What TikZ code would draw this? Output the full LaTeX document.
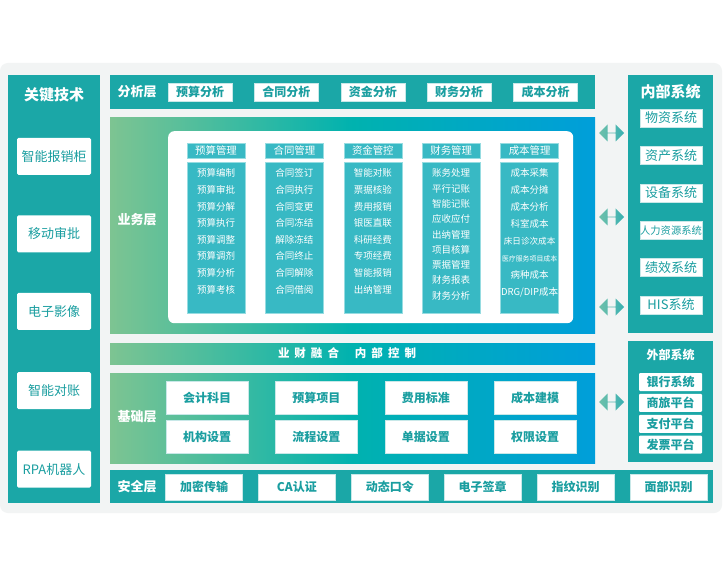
\documentclass[tikz,border=0pt]{standalone}
\usepackage{fontspec}
\setmainfont{Noto Sans CJK SC}
\usepackage{xcolor}
\usepackage{tikz}
\usetikzlibrary{shapes.arrows, positioning}
\tikzset{
    sidepanel/.style={rectangle, fill=mainteal, inner sep=0pt},
    layerband/.style={rectangle, inner sep=0pt, left color=ggreen, right color=gblue, middle color=gteal},
    paneltitle/.style={text=white, font=\bfseries\fontsize{15}{15}\selectfont, inner sep=0pt},
    layerlabel/.style={text=white, font=\bfseries\fontsize{13}{13}\selectfont, inner sep=0pt},
    techbox/.style={rectangle, rounded corners=1.5pt, fill=white, minimum width=74pt, minimum height=37pt, text=boxtext, font=\fontsize{13}{13}\selectfont, inner sep=0pt},
    tagbox/.style={rectangle, fill=white, draw=tagline, minimum width=64pt, minimum height=18pt, text=boxtext, font=\bfseries\fontsize{12}{12}\selectfont, inner sep=0pt},
    colhead/.style={rectangle, fill=colteal, draw=colline, minimum width=58pt, minimum height=15pt, text=white, font=\fontsize{10.4}{10.4}\selectfont, inner sep=0pt},
    colbody/.style={rectangle, fill=colteal, draw=colline, minimum width=58pt, minimum height=151pt, inner sep=0pt},
    itemlist/.style={align=center, text=white, inner sep=0pt, font=\fontsize{9.5}{16.6}\selectfont},
    sysbox/.style={rectangle, fill=white, draw=tagline, minimum width=62pt, minimum height=18pt, text=boxtext, font=\fontsize{13}{13}\selectfont, inner sep=0pt},
    extbox/.style={rectangle, rounded corners=1pt, fill=white, minimum width=63pt, minimum height=18pt, text=boxtext, font=\bfseries\fontsize{12}{12}\selectfont, inner sep=0pt},
    basebox/.style={rectangle, fill=white, draw=tagline, minimum width=82pt, minimum height=33pt, text=boxtext, font=\bfseries\fontsize{12}{12}\selectfont, inner sep=0pt},
    safebox/.style={rectangle, fill=white, draw=tagline, minimum width=77pt, minimum height=26pt, text=boxtext, font=\bfseries\fontsize{12}{12}\selectfont, inner sep=0pt},
    linkarrow/.style={double arrow, double arrow head extend=3.5pt, minimum height=25pt, minimum width=17pt, inner sep=0pt, left color=arrgreen, right color=arrteal}
}
\definecolor{bggray}{RGB}{242,244,244}
\definecolor{mainteal}{RGB}{27,167,167}
\definecolor{colteal}{RGB}{56,185,196}
\definecolor{colline}{RGB}{150,220,225}
\definecolor{boxtext}{RGB}{26,158,160}
\definecolor{tagline}{RGB}{200,232,232}
\definecolor{ggreen}{RGB}{125,196,146}
\definecolor{gteal}{RGB}{0,178,175}
\definecolor{gblue}{RGB}{0,158,218}
\definecolor{arrgreen}{RGB}{110,192,170}
\definecolor{arrteal}{RGB}{58,176,178}

\begin{document}
\begin{tikzpicture}[x=1pt, y=-1pt, node distance=20pt]
    \useasboundingbox (0,0) rectangle (725,577);
    \fill[white] (0,0) rectangle (725,577);
    \fill[bggray, rounded corners=8pt] (0,63) rectangle (722,513);

    % Key technologies
    \node (keytech) [sidepanel, minimum width=92pt, minimum height=428pt, anchor=north west] at (8,75) {};
    \node (keytitle) [paneltitle] at (54,95) {关键技术};
    \node (tech1) [techbox] at (54,156.5) {智能报销柜};
    \node (tech2) [techbox, below=40pt of tech1] {移动审批};
    \node (tech3) [techbox, below=40pt of tech2] {电子影像};
    \node (tech4) [techbox, below=42pt of tech3] {智能对账};
    \node (tech5) [techbox, below=41pt of tech4] {RPA机器人};

    % Analysis layer
    \node (anabar) [sidepanel, minimum width=485pt, minimum height=34pt, anchor=north west] at (110,75) {};
    \node (analabel) [layerlabel] at (137,92) {分析层};
    \node (ana1) [tagbox] at (200,92) {预算分析};
    \node (ana2) [tagbox, right=22pt of ana1] {合同分析};
    \node (ana3) [tagbox, right=22pt of ana2] {资金分析};
    \node (ana4) [tagbox, right=22pt of ana3] {财务分析};
    \node (ana5) [tagbox, right=22pt of ana4] {成本分析};

    % Business layer
    \node (bizbar) [layerband, minimum width=485pt, minimum height=216pt, anchor=north west] at (110,117) {};
    \node (bizlabel) [layerlabel] at (137,220) {业务层};
    \node (bizcard) [rectangle, fill=white, rounded corners=6pt, minimum width=405pt, minimum height=192pt, anchor=north west] at (168,131) {};

    \node (head1) [colhead] at (216,150.5) {预算管理};
    \node (head2) [colhead, right=20pt of head1] {合同管理};
    \node (head3) [colhead, right=20pt of head2] {资金管控};
    \node (head4) [colhead, right=20pt of head3] {财务管理};
    \node (head5) [colhead, right=20pt of head4] {成本管理};

    \node (body1) [colbody, below=4pt of head1] {};
    \node (body2) [colbody, below=4pt of head2] {};
    \node (body3) [colbody, below=4pt of head3] {};
    \node (body4) [colbody, below=4pt of head4] {};
    \node (body5) [colbody, below=4pt of head5] {};

    \node (list1) [itemlist, below=6.5pt of body1.north] {预算编制\\预算审批\\预算分解\\预算执行\\预算调整\\预算调剂\\预算分析\\预算考核};
    \node (list2) [itemlist, below=6.5pt of body2.north] {合同签订\\合同执行\\合同变更\\合同冻结\\解除冻结\\合同终止\\合同解除\\合同借阅};
    \node (list3) [itemlist, below=6.5pt of body3.north] {智能对账\\票据核验\\费用报销\\银医直联\\科研经费\\专项经费\\智能报销\\出纳管理};
    \node (list4) [itemlist, font=\fontsize{9.5}{15.3}\selectfont, below=6.5pt of body4.north] {账务处理\\平行记账\\智能记账\\应收应付\\出纳管理\\项目核算\\票据管理\\财务报表\\财务分析};
    \node (list5) [itemlist, font=\fontsize{9.5}{17}\selectfont, below=6.5pt of body5.north] {成本采集\\成本分摊\\成本分析\\科室成本\\{\fontsize{8.6}{10}\selectfont 床日诊次成本}\\{\fontsize{6.9}{8}\selectfont 医疗服务项目成本}\\病种成本\\DRG/DIP成本};

    % Fusion bar
    \node (fusion) [layerband, minimum width=485pt, minimum height=21pt, anchor=north west] at (110,343) {};
    \node (fusiontext) [text=white, font=\bfseries\fontsize{11.5}{11.5}\selectfont, inner sep=0pt] at (347,353.5) {业\hspace{5pt}财\hspace{5pt}融\hspace{5pt}合\hspace{16pt}内\hspace{5pt}部\hspace{5pt}控\hspace{5pt}制};

    % Base layer
    \node (basebar) [layerband, minimum width=485pt, minimum height=90pt, anchor=north west] at (110,373) {};
    \node (baselabel) [layerlabel] at (137,417) {基础层};
    \node (base1) [basebox] at (207,397.5) {会计科目};
    \node (base2) [basebox, right=27pt of base1] {预算项目};
    \node (base3) [basebox, right=27pt of base2] {费用标准};
    \node (base4) [basebox, right=27pt of base3] {成本建模};
    \node (base5) [basebox, below=6pt of base1] {机构设置};
    \node (base6) [basebox, below=6pt of base2] {流程设置};
    \node (base7) [basebox, below=6pt of base3] {单据设置};
    \node (base8) [basebox, below=6pt of base4] {权限设置};

    % Security layer
    \node (safebar) [sidepanel, minimum width=603pt, minimum height=33pt, anchor=north west] at (110,470) {};
    \node (safelabel) [layerlabel] at (137,487) {安全层};
    \node (safe1) [safebox] at (204,487) {加密传输};
    \node (safe2) [safebox, right=15.5pt of safe1] {CA认证};
    \node (safe3) [safebox, right=15.5pt of safe2] {动态口令};
    \node (safe4) [safebox, right=15.5pt of safe3] {电子签章};
    \node (safe5) [safebox, right=15.5pt of safe4] {指纹识别};
    \node (safe6) [safebox, right=15.5pt of safe5] {面部识别};

    % Internal systems
    \node (internal) [sidepanel, minimum width=85pt, minimum height=258pt, anchor=north west] at (628,75) {};
    \node (inttitle) [paneltitle] at (670.5,92) {内部系统};
    \node (sys1) [sysbox] at (671,118) {物资系统};
    \node (sys2) [sysbox, below=19pt of sys1] {资产系统};
    \node (sys3) [sysbox, below=19pt of sys2] {设备系统};
    \node (sys4) [sysbox, below=19pt of sys3, font=\fontsize{10.3}{10.3}\selectfont] {人力资源系统};
    \node (sys5) [sysbox, below=19pt of sys4] {绩效系统};
    \node (sys6) [sysbox, below=19pt of sys5] {HIS系统};

    % External systems
    \node (external) [sidepanel, minimum width=85pt, minimum height=121pt, anchor=north west] at (628,341) {};
    \node (exttitle) [paneltitle, font=\bfseries\fontsize{12}{12}\selectfont] at (670.5,355) {外部系统};
    \node (ext1) [extbox] at (670.5,382) {银行系统};
    \node (ext2) [extbox, below=2.5pt of ext1] {商旅平台};
    \node (ext3) [extbox, below=2.5pt of ext2] {支付平台};
    \node (ext4) [extbox, below=2.5pt of ext3] {发票平台};

    % Arrows
    \node (link1) [linkarrow] at (611.5,133) {};
    \node (link2) [linkarrow] at (611.5,217) {};
    \node (link3) [linkarrow] at (611.5,307) {};
    \node (link4) [linkarrow] at (611.5,402) {};
\end{tikzpicture}
\end{document}
